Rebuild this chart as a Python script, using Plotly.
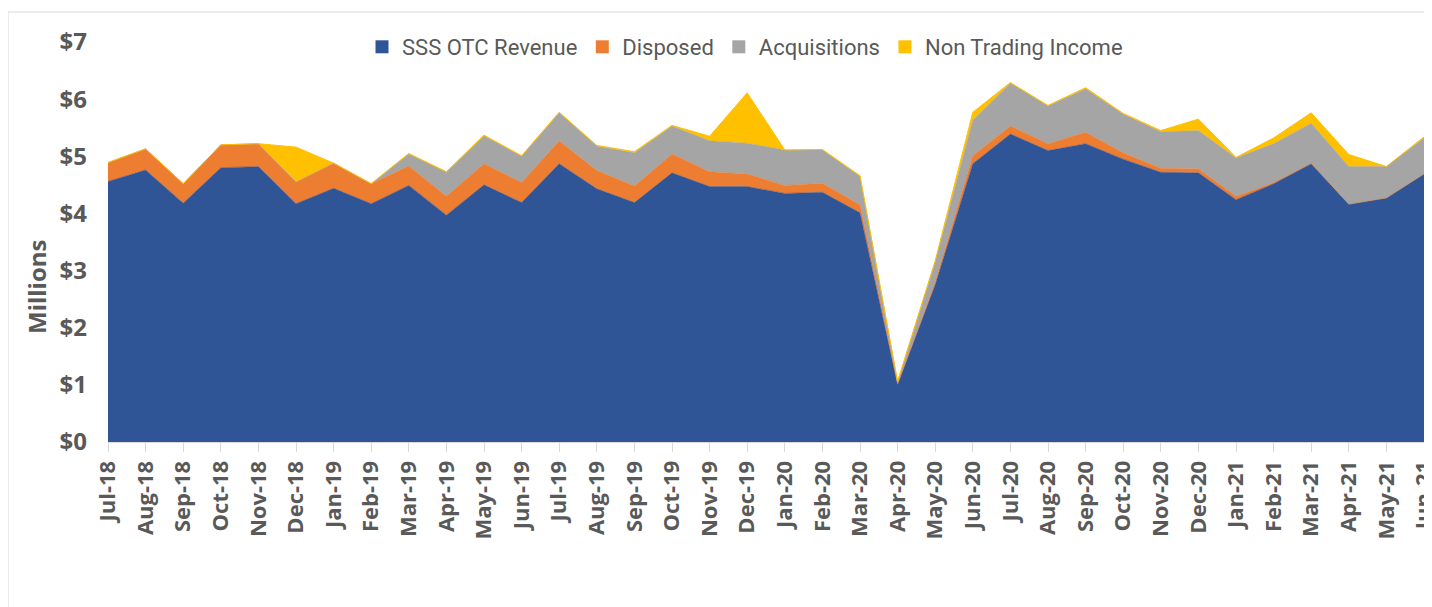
import plotly.graph_objects as go

months = ["Jul-18", "Aug-18", "Sep-18", "Oct-18", "Nov-18", "Dec-18", "Jan-19", "Feb-19",
          "Mar-19", "Apr-19", "May-19", "Jun-19", "Jul-19", "Aug-19", "Sep-19", "Oct-19",
          "Nov-19", "Dec-19", "Jan-20", "Feb-20", "Mar-20", "Apr-20", "May-20", "Jun-20",
          "Jul-20", "Aug-20", "Sep-20", "Oct-20", "Nov-20", "Dec-20", "Jan-21", "Feb-21",
          "Mar-21", "Apr-21", "May-21", "Jun-21"]

sss_otc_revenue = [4.56, 4.76, 4.18, 4.80, 4.82, 4.17, 4.44, 4.17, 4.49, 3.97, 4.50, 4.19,
                   4.87, 4.43, 4.19, 4.71, 4.47, 4.47, 4.35, 4.37, 4.01, 1.00, 2.75, 4.87,
                   5.39, 5.10, 5.22, 4.95, 4.72, 4.71, 4.24, 4.52, 4.87, 4.16, 4.27, 4.69]
disposed = [0.33, 0.37, 0.34, 0.40, 0.40, 0.38, 0.44, 0.35, 0.34, 0.33, 0.37, 0.35,
            0.40, 0.32, 0.29, 0.33, 0.26, 0.22, 0.14, 0.16, 0.14, 0.02, 0.05, 0.14,
            0.14, 0.12, 0.20, 0.11, 0.07, 0.07, 0.06, 0.02, 0.01, 0.00, 0.00, 0.00]
acquisitions = [0.00, 0.00, 0.00, 0.00, 0.00, 0.00, 0.00, 0.00, 0.21, 0.42, 0.49, 0.46,
                0.49, 0.43, 0.58, 0.49, 0.54, 0.54, 0.62, 0.58, 0.50, 0.03, 0.35, 0.62,
                0.75, 0.66, 0.76, 0.68, 0.64, 0.67, 0.67, 0.68, 0.70, 0.66, 0.55, 0.63]
non_trading_income = [0.00, 0.00, 0.00, 0.00, 0.00, 0.61, 0.00, 0.00, 0.01, 0.01, 0.01, 0.01,
                      0.01, 0.01, 0.02, 0.01, 0.08, 0.88, 0.00, 0.01, 0.01, 0.01, 0.02, 0.14,
                      0.01, 0.01, 0.02, 0.01, 0.02, 0.20, 0.01, 0.10, 0.18, 0.21, 0.00, 0.02]

y_ticks = [0, 1, 2, 3, 4, 5, 6, 7]
y_tick_labels = ["$0", "$1", "$2", "$3", "$4", "$5", "$6", "$7"]
y_title = "Millions"

series = [
    ("SSS OTC Revenue", sss_otc_revenue, "#2F5597", 0.5),
    ("Disposed", disposed, "#ED7D31", 0.5),
    ("Acquisitions", acquisitions, "#A5A5A5", 0.5),
    ("Non Trading Income", non_trading_income, "#FFC000", 1.0),
]

fig = go.Figure()
for name, vals, color, lw in series:
    fig.add_trace(go.Scatter(
        x=months, y=vals, name=name, stackgroup="one", mode="lines",
        line=dict(color=color, width=lw), fillcolor=color, showlegend=False,
    ))
for name, vals, color, lw in series:
    fig.add_trace(go.Scatter(
        x=[None], y=[None], name=name, mode="markers",
        marker=dict(symbol="square", size=13, color=color), showlegend=True,
    ))

OFF = 8  # page body margin
W, H = 1432 - OFF, 607 - OFF
L, R, T, B = 108 - OFF, 8, 42 - OFF, 165
pw, ph = W - L - R, H - T - B


def px(page_x):
    return (page_x - OFF - L) / pw


def py(page_y):
    return (OFF + T + ph - page_y) / ph


fig.update_layout(
    width=W, height=H,
    margin=dict(l=L, r=R, t=T, b=B, pad=0),
    paper_bgcolor="white", plot_bgcolor="white",
    font=dict(family="Open Sans", color="#595959"),
    legend=dict(
        orientation="h", x=px(745), y=py(47),
        xanchor="center", yanchor="middle",
        font=dict(family="Roboto", size=22, color="#595959"),
        traceorder="normal", itemsizing="trace", bgcolor="rgba(0,0,0,0)",
    ),
    xaxis=dict(
        type="category", categoryorder="array", categoryarray=months,
        range=[0, len(months) - 1], automargin=False,
        tickangle=-90, ticks="outside", ticklen=9, tickcolor="#d9d9d9",
        showline=True, linecolor="#d9d9d9", linewidth=1, showgrid=False,
        tickfont=dict(family="Open Sans", size=22, color="#595959", weight="bold"),
    ),
    yaxis=dict(
        range=[0, 7], tickvals=y_ticks, ticktext=y_tick_labels, automargin=False,
        showgrid=False, zeroline=False, showline=False,
        ticklabelstandoff=20,
        tickfont=dict(family="Open Sans", size=24, color="#595959", weight="bold"),
    ),
    annotations=[dict(
        text=y_title, textangle=-90, xref="paper", yref="paper",
        x=px(36), y=py(287), xanchor="center", yanchor="middle", showarrow=False,
        font=dict(family="Open Sans", size=24, color="#595959", weight="bold"),
    )],
    shapes=[dict(
        type="rect", xref="paper", yref="paper",
        x0=px(8), x1=px(1440),
        y0=py(620), y1=py(12),
        line=dict(color="#d9d9d9", width=1), fillcolor="rgba(0,0,0,0)", layer="below",
    )],
)

fig.write_html("out.html")
